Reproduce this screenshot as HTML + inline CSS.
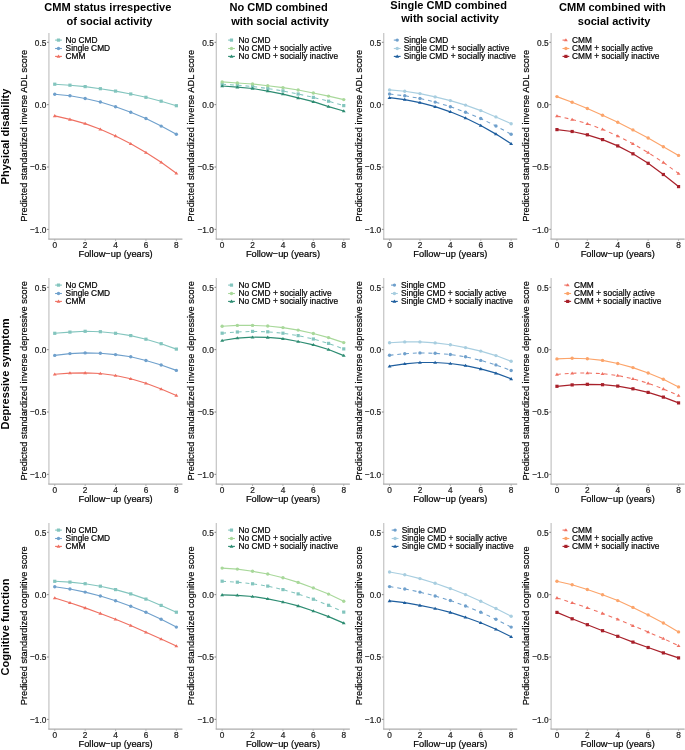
<!DOCTYPE html>
<html><head><meta charset="utf-8"><style>
html,body{margin:0;padding:0;background:#fff;}
body{width:685px;height:750px;overflow:hidden;}
svg{display:block;font-family:"Liberation Sans",sans-serif;will-change:transform;}
</style></head><body>
<svg width="685" height="750" viewBox="0 0 685 750">
<rect width="685" height="750" fill="#ffffff"/>
<text x="107.80" y="11.10" font-size="11.05" font-weight="bold" text-anchor="middle" fill="#000">CMM status irrespective</text>
<text x="109.40" y="24.50" font-size="11.05" font-weight="bold" text-anchor="middle" fill="#000">of social activity</text>
<text x="278.65" y="11.10" font-size="11.05" font-weight="bold" text-anchor="middle" fill="#000">No CMD combined</text>
<text x="280.00" y="24.50" font-size="11.05" font-weight="bold" text-anchor="middle" fill="#000">with social activity</text>
<text x="448.65" y="8.80" font-size="11.05" font-weight="bold" text-anchor="middle" fill="#000">Single CMD combined</text>
<text x="450.10" y="21.90" font-size="11.05" font-weight="bold" text-anchor="middle" fill="#000">with social activity</text>
<text x="612.40" y="10.90" font-size="11.05" font-weight="bold" text-anchor="middle" fill="#000">CMM combined with</text>
<text x="614.05" y="24.50" font-size="11.05" font-weight="bold" text-anchor="middle" fill="#000">social activity</text>
<text transform="translate(8.9 136.50) rotate(-90)" font-size="11.05" font-weight="bold" text-anchor="middle" fill="#000">Physical disability</text>
<text transform="translate(26.72 135.83) rotate(-90)" font-size="9.9" textLength="171.89" lengthAdjust="spacingAndGlyphs" text-anchor="middle" fill="#000" stroke="#000" stroke-width="0.2">Predicted standardized inverse ADL score</text>
<line x1="48.92" y1="32.95" x2="48.92" y2="239.10" stroke="#c6c6c6" stroke-width="1.25"/>
<line x1="48.27" y1="239.15" x2="182.43" y2="239.15" stroke="#acacac" stroke-width="1.4"/>
<line x1="47.07" y1="42.30" x2="48.67" y2="42.30" stroke="#333333" stroke-width="0.6"/>
<text transform="translate(46.37 45.60) scale(1 1.13)" font-size="8.3" text-anchor="end" fill="#222222" stroke="#222222" stroke-width="0.2">0.5</text>
<line x1="47.07" y1="104.65" x2="48.67" y2="104.65" stroke="#333333" stroke-width="0.6"/>
<text transform="translate(46.37 107.95) scale(1 1.13)" font-size="8.3" text-anchor="end" fill="#222222" stroke="#222222" stroke-width="0.2">0.0</text>
<line x1="47.07" y1="167.00" x2="48.67" y2="167.00" stroke="#333333" stroke-width="0.6"/>
<text transform="translate(46.37 170.30) scale(1 1.13)" font-size="8.3" text-anchor="end" fill="#222222" stroke="#222222" stroke-width="0.2">−0.5</text>
<line x1="47.07" y1="229.35" x2="48.67" y2="229.35" stroke="#333333" stroke-width="0.6"/>
<text transform="translate(46.37 232.65) scale(1 1.13)" font-size="8.3" text-anchor="end" fill="#222222" stroke="#222222" stroke-width="0.2">−1.0</text>
<line x1="54.75" y1="239.80" x2="54.75" y2="240.60" stroke="#333333" stroke-width="0.6"/>
<text transform="translate(54.75 247.67) scale(1 1.13)" font-size="8.3" text-anchor="middle" fill="#222222" stroke="#222222" stroke-width="0.2">0</text>
<line x1="85.15" y1="239.80" x2="85.15" y2="240.60" stroke="#333333" stroke-width="0.6"/>
<text transform="translate(85.15 247.67) scale(1 1.13)" font-size="8.3" text-anchor="middle" fill="#222222" stroke="#222222" stroke-width="0.2">2</text>
<line x1="115.55" y1="239.80" x2="115.55" y2="240.60" stroke="#333333" stroke-width="0.6"/>
<text transform="translate(115.55 247.67) scale(1 1.13)" font-size="8.3" text-anchor="middle" fill="#222222" stroke="#222222" stroke-width="0.2">4</text>
<line x1="145.95" y1="239.80" x2="145.95" y2="240.60" stroke="#333333" stroke-width="0.6"/>
<text transform="translate(145.95 247.67) scale(1 1.13)" font-size="8.3" text-anchor="middle" fill="#222222" stroke="#222222" stroke-width="0.2">6</text>
<line x1="176.35" y1="239.80" x2="176.35" y2="240.60" stroke="#333333" stroke-width="0.6"/>
<text transform="translate(176.35 247.67) scale(1 1.13)" font-size="8.3" text-anchor="middle" fill="#222222" stroke="#222222" stroke-width="0.2">8</text>
<text transform="translate(115.55 256.70) scale(1 1.06)" font-size="9.3" text-anchor="middle" fill="#000" stroke="#000" stroke-width="0.2">Follow−up (years)</text>
<path d="M54.75,84.20 L69.95,85.20 L85.15,86.60 L100.35,88.70 L115.55,91.10 L130.75,94.00 L145.95,97.30 L161.15,101.20 L176.35,105.70" fill="none" stroke="#83C5BE" stroke-width="1.12"/>
<rect x="53.15" y="82.60" width="3.20" height="3.20" fill="#83C5BE"/>
<rect x="68.35" y="83.60" width="3.20" height="3.20" fill="#83C5BE"/>
<rect x="83.55" y="85.00" width="3.20" height="3.20" fill="#83C5BE"/>
<rect x="98.75" y="87.10" width="3.20" height="3.20" fill="#83C5BE"/>
<rect x="113.95" y="89.50" width="3.20" height="3.20" fill="#83C5BE"/>
<rect x="129.15" y="92.40" width="3.20" height="3.20" fill="#83C5BE"/>
<rect x="144.35" y="95.70" width="3.20" height="3.20" fill="#83C5BE"/>
<rect x="159.55" y="99.60" width="3.20" height="3.20" fill="#83C5BE"/>
<rect x="174.75" y="104.10" width="3.20" height="3.20" fill="#83C5BE"/>
<path d="M54.75,94.20 L69.95,95.80 L85.15,98.50 L100.35,102.00 L115.55,106.70 L130.75,112.20 L145.95,118.50 L161.15,126.10 L176.35,134.30" fill="none" stroke="#6FA0CC" stroke-width="1.12"/>
<circle cx="54.75" cy="94.20" r="1.70" fill="#6FA0CC"/>
<circle cx="69.95" cy="95.80" r="1.70" fill="#6FA0CC"/>
<circle cx="85.15" cy="98.50" r="1.70" fill="#6FA0CC"/>
<circle cx="100.35" cy="102.00" r="1.70" fill="#6FA0CC"/>
<circle cx="115.55" cy="106.70" r="1.70" fill="#6FA0CC"/>
<circle cx="130.75" cy="112.20" r="1.70" fill="#6FA0CC"/>
<circle cx="145.95" cy="118.50" r="1.70" fill="#6FA0CC"/>
<circle cx="161.15" cy="126.10" r="1.70" fill="#6FA0CC"/>
<circle cx="176.35" cy="134.30" r="1.70" fill="#6FA0CC"/>
<path d="M54.75,115.90 L69.95,119.40 L85.15,123.60 L100.35,129.20 L115.55,135.90 L130.75,143.70 L145.95,152.50 L161.15,162.30 L176.35,173.30" fill="none" stroke="#EF7062" stroke-width="1.12"/>
<polygon points="54.75,114.12 56.70,117.16 52.80,117.16" fill="#EF7062"/>
<polygon points="69.95,117.62 71.90,120.66 68.00,120.66" fill="#EF7062"/>
<polygon points="85.15,121.82 87.10,124.86 83.20,124.86" fill="#EF7062"/>
<polygon points="100.35,127.42 102.30,130.46 98.40,130.46" fill="#EF7062"/>
<polygon points="115.55,134.12 117.50,137.16 113.60,137.16" fill="#EF7062"/>
<polygon points="130.75,141.92 132.70,144.96 128.80,144.96" fill="#EF7062"/>
<polygon points="145.95,150.72 147.90,153.76 144.00,153.76" fill="#EF7062"/>
<polygon points="161.15,160.53 163.10,163.56 159.20,163.56" fill="#EF7062"/>
<polygon points="176.35,171.53 178.30,174.56 174.40,174.56" fill="#EF7062"/>
<line x1="55.10" y1="40.10" x2="61.90" y2="40.10" stroke="#83C5BE" stroke-width="1.1"/>
<rect x="56.90" y="38.50" width="3.20" height="3.20" fill="#83C5BE"/>
<text x="65.60" y="43.00" font-size="8.35" fill="#000" stroke="#000" stroke-width="0.2">No CMD</text>
<line x1="55.10" y1="48.50" x2="61.90" y2="48.50" stroke="#6FA0CC" stroke-width="1.1"/>
<circle cx="58.50" cy="48.50" r="1.70" fill="#6FA0CC"/>
<text x="65.60" y="51.40" font-size="8.35" fill="#000" stroke="#000" stroke-width="0.2">Single CMD</text>
<line x1="55.10" y1="56.40" x2="61.90" y2="56.40" stroke="#EF7062" stroke-width="1.1"/>
<polygon points="58.50,54.62 60.45,57.66 56.55,57.66" fill="#EF7062"/>
<text x="65.60" y="59.30" font-size="8.35" fill="#000" stroke="#000" stroke-width="0.2">CMM</text>
<text transform="translate(194.12 135.83) rotate(-90)" font-size="9.9" textLength="171.89" lengthAdjust="spacingAndGlyphs" text-anchor="middle" fill="#000" stroke="#000" stroke-width="0.2">Predicted standardized inverse ADL score</text>
<line x1="216.32" y1="32.95" x2="216.32" y2="239.10" stroke="#c6c6c6" stroke-width="1.25"/>
<line x1="215.67" y1="239.15" x2="349.83" y2="239.15" stroke="#acacac" stroke-width="1.4"/>
<line x1="214.47" y1="42.30" x2="216.07" y2="42.30" stroke="#333333" stroke-width="0.6"/>
<text transform="translate(213.77 45.60) scale(1 1.13)" font-size="8.3" text-anchor="end" fill="#222222" stroke="#222222" stroke-width="0.2">0.5</text>
<line x1="214.47" y1="104.65" x2="216.07" y2="104.65" stroke="#333333" stroke-width="0.6"/>
<text transform="translate(213.77 107.95) scale(1 1.13)" font-size="8.3" text-anchor="end" fill="#222222" stroke="#222222" stroke-width="0.2">0.0</text>
<line x1="214.47" y1="167.00" x2="216.07" y2="167.00" stroke="#333333" stroke-width="0.6"/>
<text transform="translate(213.77 170.30) scale(1 1.13)" font-size="8.3" text-anchor="end" fill="#222222" stroke="#222222" stroke-width="0.2">−0.5</text>
<line x1="214.47" y1="229.35" x2="216.07" y2="229.35" stroke="#333333" stroke-width="0.6"/>
<text transform="translate(213.77 232.65) scale(1 1.13)" font-size="8.3" text-anchor="end" fill="#222222" stroke="#222222" stroke-width="0.2">−1.0</text>
<line x1="222.15" y1="239.80" x2="222.15" y2="240.60" stroke="#333333" stroke-width="0.6"/>
<text transform="translate(222.15 247.67) scale(1 1.13)" font-size="8.3" text-anchor="middle" fill="#222222" stroke="#222222" stroke-width="0.2">0</text>
<line x1="252.55" y1="239.80" x2="252.55" y2="240.60" stroke="#333333" stroke-width="0.6"/>
<text transform="translate(252.55 247.67) scale(1 1.13)" font-size="8.3" text-anchor="middle" fill="#222222" stroke="#222222" stroke-width="0.2">2</text>
<line x1="282.95" y1="239.80" x2="282.95" y2="240.60" stroke="#333333" stroke-width="0.6"/>
<text transform="translate(282.95 247.67) scale(1 1.13)" font-size="8.3" text-anchor="middle" fill="#222222" stroke="#222222" stroke-width="0.2">4</text>
<line x1="313.35" y1="239.80" x2="313.35" y2="240.60" stroke="#333333" stroke-width="0.6"/>
<text transform="translate(313.35 247.67) scale(1 1.13)" font-size="8.3" text-anchor="middle" fill="#222222" stroke="#222222" stroke-width="0.2">6</text>
<line x1="343.75" y1="239.80" x2="343.75" y2="240.60" stroke="#333333" stroke-width="0.6"/>
<text transform="translate(343.75 247.67) scale(1 1.13)" font-size="8.3" text-anchor="middle" fill="#222222" stroke="#222222" stroke-width="0.2">8</text>
<text transform="translate(282.95 256.70) scale(1 1.06)" font-size="9.3" text-anchor="middle" fill="#000" stroke="#000" stroke-width="0.2">Follow−up (years)</text>
<path d="M222.15,84.30 L237.35,85.20 L252.55,86.50 L267.75,88.50 L282.95,90.90 L298.15,94.00 L313.35,97.40 L328.55,101.20 L343.75,105.60" fill="none" stroke="#83C5BE" stroke-width="1.05" stroke-dasharray="3.9,3.9"/>
<rect x="220.55" y="82.70" width="3.20" height="3.20" fill="#83C5BE"/>
<rect x="235.75" y="83.60" width="3.20" height="3.20" fill="#83C5BE"/>
<rect x="250.95" y="84.90" width="3.20" height="3.20" fill="#83C5BE"/>
<rect x="266.15" y="86.90" width="3.20" height="3.20" fill="#83C5BE"/>
<rect x="281.35" y="89.30" width="3.20" height="3.20" fill="#83C5BE"/>
<rect x="296.55" y="92.40" width="3.20" height="3.20" fill="#83C5BE"/>
<rect x="311.75" y="95.80" width="3.20" height="3.20" fill="#83C5BE"/>
<rect x="326.95" y="99.60" width="3.20" height="3.20" fill="#83C5BE"/>
<rect x="342.15" y="104.00" width="3.20" height="3.20" fill="#83C5BE"/>
<path d="M222.15,81.90 L237.35,83.00 L252.55,84.00 L267.75,85.70 L282.95,87.60 L298.15,90.00 L313.35,93.00 L328.55,96.10 L343.75,99.60" fill="none" stroke="#A8D89A" stroke-width="1.12"/>
<circle cx="222.15" cy="81.90" r="1.70" fill="#A8D89A"/>
<circle cx="237.35" cy="83.00" r="1.70" fill="#A8D89A"/>
<circle cx="252.55" cy="84.00" r="1.70" fill="#A8D89A"/>
<circle cx="267.75" cy="85.70" r="1.70" fill="#A8D89A"/>
<circle cx="282.95" cy="87.60" r="1.70" fill="#A8D89A"/>
<circle cx="298.15" cy="90.00" r="1.70" fill="#A8D89A"/>
<circle cx="313.35" cy="93.00" r="1.70" fill="#A8D89A"/>
<circle cx="328.55" cy="96.10" r="1.70" fill="#A8D89A"/>
<circle cx="343.75" cy="99.60" r="1.70" fill="#A8D89A"/>
<path d="M222.15,86.00 L237.35,87.20 L252.55,88.50 L267.75,91.10 L282.95,94.10 L298.15,97.90 L313.35,101.70 L328.55,106.60 L343.75,111.00" fill="none" stroke="#2D8C72" stroke-width="1.22"/>
<polygon points="222.15,84.22 224.10,87.26 220.20,87.26" fill="#2D8C72"/>
<polygon points="237.35,85.42 239.30,88.46 235.40,88.46" fill="#2D8C72"/>
<polygon points="252.55,86.72 254.50,89.76 250.60,89.76" fill="#2D8C72"/>
<polygon points="267.75,89.32 269.70,92.36 265.80,92.36" fill="#2D8C72"/>
<polygon points="282.95,92.32 284.90,95.36 281.00,95.36" fill="#2D8C72"/>
<polygon points="298.15,96.12 300.10,99.16 296.20,99.16" fill="#2D8C72"/>
<polygon points="313.35,99.92 315.30,102.96 311.40,102.96" fill="#2D8C72"/>
<polygon points="328.55,104.82 330.50,107.86 326.60,107.86" fill="#2D8C72"/>
<polygon points="343.75,109.22 345.70,112.26 341.80,112.26" fill="#2D8C72"/>
<line x1="228.10" y1="40.10" x2="234.90" y2="40.10" stroke="#83C5BE" stroke-width="1.1" stroke-dasharray="4,4"/>
<rect x="229.90" y="38.50" width="3.20" height="3.20" fill="#83C5BE"/>
<text x="238.60" y="43.00" font-size="8.35" fill="#000" stroke="#000" stroke-width="0.2">No CMD</text>
<line x1="228.10" y1="48.50" x2="234.90" y2="48.50" stroke="#A8D89A" stroke-width="1.1"/>
<circle cx="231.50" cy="48.50" r="1.70" fill="#A8D89A"/>
<text x="238.60" y="51.40" font-size="8.35" fill="#000" stroke="#000" stroke-width="0.2">No CMD + socially active</text>
<line x1="228.10" y1="56.40" x2="234.90" y2="56.40" stroke="#2D8C72" stroke-width="1.1"/>
<polygon points="231.50,54.62 233.45,57.66 229.55,57.66" fill="#2D8C72"/>
<text x="238.60" y="59.30" font-size="8.35" fill="#000" stroke="#000" stroke-width="0.2">No CMD + socially inactive</text>
<text transform="translate(361.52 135.83) rotate(-90)" font-size="9.9" textLength="171.89" lengthAdjust="spacingAndGlyphs" text-anchor="middle" fill="#000" stroke="#000" stroke-width="0.2">Predicted standardized inverse ADL score</text>
<line x1="383.72" y1="32.95" x2="383.72" y2="239.10" stroke="#c6c6c6" stroke-width="1.25"/>
<line x1="383.07" y1="239.15" x2="517.23" y2="239.15" stroke="#acacac" stroke-width="1.4"/>
<line x1="381.87" y1="42.30" x2="383.47" y2="42.30" stroke="#333333" stroke-width="0.6"/>
<text transform="translate(381.17 45.60) scale(1 1.13)" font-size="8.3" text-anchor="end" fill="#222222" stroke="#222222" stroke-width="0.2">0.5</text>
<line x1="381.87" y1="104.65" x2="383.47" y2="104.65" stroke="#333333" stroke-width="0.6"/>
<text transform="translate(381.17 107.95) scale(1 1.13)" font-size="8.3" text-anchor="end" fill="#222222" stroke="#222222" stroke-width="0.2">0.0</text>
<line x1="381.87" y1="167.00" x2="383.47" y2="167.00" stroke="#333333" stroke-width="0.6"/>
<text transform="translate(381.17 170.30) scale(1 1.13)" font-size="8.3" text-anchor="end" fill="#222222" stroke="#222222" stroke-width="0.2">−0.5</text>
<line x1="381.87" y1="229.35" x2="383.47" y2="229.35" stroke="#333333" stroke-width="0.6"/>
<text transform="translate(381.17 232.65) scale(1 1.13)" font-size="8.3" text-anchor="end" fill="#222222" stroke="#222222" stroke-width="0.2">−1.0</text>
<line x1="389.55" y1="239.80" x2="389.55" y2="240.60" stroke="#333333" stroke-width="0.6"/>
<text transform="translate(389.55 247.67) scale(1 1.13)" font-size="8.3" text-anchor="middle" fill="#222222" stroke="#222222" stroke-width="0.2">0</text>
<line x1="419.95" y1="239.80" x2="419.95" y2="240.60" stroke="#333333" stroke-width="0.6"/>
<text transform="translate(419.95 247.67) scale(1 1.13)" font-size="8.3" text-anchor="middle" fill="#222222" stroke="#222222" stroke-width="0.2">2</text>
<line x1="450.35" y1="239.80" x2="450.35" y2="240.60" stroke="#333333" stroke-width="0.6"/>
<text transform="translate(450.35 247.67) scale(1 1.13)" font-size="8.3" text-anchor="middle" fill="#222222" stroke="#222222" stroke-width="0.2">4</text>
<line x1="480.75" y1="239.80" x2="480.75" y2="240.60" stroke="#333333" stroke-width="0.6"/>
<text transform="translate(480.75 247.67) scale(1 1.13)" font-size="8.3" text-anchor="middle" fill="#222222" stroke="#222222" stroke-width="0.2">6</text>
<line x1="511.15" y1="239.80" x2="511.15" y2="240.60" stroke="#333333" stroke-width="0.6"/>
<text transform="translate(511.15 247.67) scale(1 1.13)" font-size="8.3" text-anchor="middle" fill="#222222" stroke="#222222" stroke-width="0.2">8</text>
<text transform="translate(450.35 256.70) scale(1 1.06)" font-size="9.3" text-anchor="middle" fill="#000" stroke="#000" stroke-width="0.2">Follow−up (years)</text>
<path d="M389.55,94.00 L404.75,95.80 L419.95,98.40 L435.15,102.10 L450.35,106.70 L465.55,112.30 L480.75,118.50 L495.95,126.00 L511.15,134.20" fill="none" stroke="#6FA0CC" stroke-width="1.05" stroke-dasharray="3.9,3.9"/>
<circle cx="389.55" cy="94.00" r="1.70" fill="#6FA0CC"/>
<circle cx="404.75" cy="95.80" r="1.70" fill="#6FA0CC"/>
<circle cx="419.95" cy="98.40" r="1.70" fill="#6FA0CC"/>
<circle cx="435.15" cy="102.10" r="1.70" fill="#6FA0CC"/>
<circle cx="450.35" cy="106.70" r="1.70" fill="#6FA0CC"/>
<circle cx="465.55" cy="112.30" r="1.70" fill="#6FA0CC"/>
<circle cx="480.75" cy="118.50" r="1.70" fill="#6FA0CC"/>
<circle cx="495.95" cy="126.00" r="1.70" fill="#6FA0CC"/>
<circle cx="511.15" cy="134.20" r="1.70" fill="#6FA0CC"/>
<path d="M389.55,89.90 L404.75,91.20 L419.95,93.60 L435.15,96.90 L450.35,100.60 L465.55,105.10 L480.75,110.60 L495.95,116.90 L511.15,123.70" fill="none" stroke="#A8CEE0" stroke-width="1.12"/>
<circle cx="389.55" cy="89.90" r="1.70" fill="#A8CEE0"/>
<circle cx="404.75" cy="91.20" r="1.70" fill="#A8CEE0"/>
<circle cx="419.95" cy="93.60" r="1.70" fill="#A8CEE0"/>
<circle cx="435.15" cy="96.90" r="1.70" fill="#A8CEE0"/>
<circle cx="450.35" cy="100.60" r="1.70" fill="#A8CEE0"/>
<circle cx="465.55" cy="105.10" r="1.70" fill="#A8CEE0"/>
<circle cx="480.75" cy="110.60" r="1.70" fill="#A8CEE0"/>
<circle cx="495.95" cy="116.90" r="1.70" fill="#A8CEE0"/>
<circle cx="511.15" cy="123.70" r="1.70" fill="#A8CEE0"/>
<path d="M389.55,97.70 L404.75,99.60 L419.95,102.60 L435.15,106.70 L450.35,111.80 L465.55,118.00 L480.75,125.50 L495.95,134.10 L511.15,143.70" fill="none" stroke="#1E5E9E" stroke-width="1.22"/>
<polygon points="389.55,95.92 391.50,98.96 387.60,98.96" fill="#1E5E9E"/>
<polygon points="404.75,97.82 406.70,100.86 402.80,100.86" fill="#1E5E9E"/>
<polygon points="419.95,100.82 421.90,103.86 418.00,103.86" fill="#1E5E9E"/>
<polygon points="435.15,104.92 437.10,107.96 433.20,107.96" fill="#1E5E9E"/>
<polygon points="450.35,110.02 452.30,113.06 448.40,113.06" fill="#1E5E9E"/>
<polygon points="465.55,116.22 467.50,119.26 463.60,119.26" fill="#1E5E9E"/>
<polygon points="480.75,123.72 482.70,126.76 478.80,126.76" fill="#1E5E9E"/>
<polygon points="495.95,132.32 497.90,135.36 494.00,135.36" fill="#1E5E9E"/>
<polygon points="511.15,141.92 513.10,144.96 509.20,144.96" fill="#1E5E9E"/>
<line x1="393.80" y1="40.10" x2="400.60" y2="40.10" stroke="#6FA0CC" stroke-width="1.1" stroke-dasharray="4,4"/>
<circle cx="397.20" cy="40.10" r="1.70" fill="#6FA0CC"/>
<text x="403.80" y="43.00" font-size="8.35" fill="#000" stroke="#000" stroke-width="0.2">Single CMD</text>
<line x1="393.80" y1="48.50" x2="400.60" y2="48.50" stroke="#A8CEE0" stroke-width="1.1"/>
<circle cx="397.20" cy="48.50" r="1.70" fill="#A8CEE0"/>
<text x="403.80" y="51.40" font-size="8.35" fill="#000" stroke="#000" stroke-width="0.2">Single CMD + socially active</text>
<line x1="393.80" y1="56.40" x2="400.60" y2="56.40" stroke="#1E5E9E" stroke-width="1.1"/>
<polygon points="397.20,54.62 399.15,57.66 395.25,57.66" fill="#1E5E9E"/>
<text x="403.80" y="59.30" font-size="8.35" fill="#000" stroke="#000" stroke-width="0.2">Single CMD + socially inactive</text>
<text transform="translate(528.92 135.83) rotate(-90)" font-size="9.9" textLength="171.89" lengthAdjust="spacingAndGlyphs" text-anchor="middle" fill="#000" stroke="#000" stroke-width="0.2">Predicted standardized inverse ADL score</text>
<line x1="551.12" y1="32.95" x2="551.12" y2="239.10" stroke="#c6c6c6" stroke-width="1.25"/>
<line x1="550.47" y1="239.15" x2="684.63" y2="239.15" stroke="#acacac" stroke-width="1.4"/>
<line x1="549.27" y1="42.30" x2="550.87" y2="42.30" stroke="#333333" stroke-width="0.6"/>
<text transform="translate(548.57 45.60) scale(1 1.13)" font-size="8.3" text-anchor="end" fill="#222222" stroke="#222222" stroke-width="0.2">0.5</text>
<line x1="549.27" y1="104.65" x2="550.87" y2="104.65" stroke="#333333" stroke-width="0.6"/>
<text transform="translate(548.57 107.95) scale(1 1.13)" font-size="8.3" text-anchor="end" fill="#222222" stroke="#222222" stroke-width="0.2">0.0</text>
<line x1="549.27" y1="167.00" x2="550.87" y2="167.00" stroke="#333333" stroke-width="0.6"/>
<text transform="translate(548.57 170.30) scale(1 1.13)" font-size="8.3" text-anchor="end" fill="#222222" stroke="#222222" stroke-width="0.2">−0.5</text>
<line x1="549.27" y1="229.35" x2="550.87" y2="229.35" stroke="#333333" stroke-width="0.6"/>
<text transform="translate(548.57 232.65) scale(1 1.13)" font-size="8.3" text-anchor="end" fill="#222222" stroke="#222222" stroke-width="0.2">−1.0</text>
<line x1="556.95" y1="239.80" x2="556.95" y2="240.60" stroke="#333333" stroke-width="0.6"/>
<text transform="translate(556.95 247.67) scale(1 1.13)" font-size="8.3" text-anchor="middle" fill="#222222" stroke="#222222" stroke-width="0.2">0</text>
<line x1="587.35" y1="239.80" x2="587.35" y2="240.60" stroke="#333333" stroke-width="0.6"/>
<text transform="translate(587.35 247.67) scale(1 1.13)" font-size="8.3" text-anchor="middle" fill="#222222" stroke="#222222" stroke-width="0.2">2</text>
<line x1="617.75" y1="239.80" x2="617.75" y2="240.60" stroke="#333333" stroke-width="0.6"/>
<text transform="translate(617.75 247.67) scale(1 1.13)" font-size="8.3" text-anchor="middle" fill="#222222" stroke="#222222" stroke-width="0.2">4</text>
<line x1="648.15" y1="239.80" x2="648.15" y2="240.60" stroke="#333333" stroke-width="0.6"/>
<text transform="translate(648.15 247.67) scale(1 1.13)" font-size="8.3" text-anchor="middle" fill="#222222" stroke="#222222" stroke-width="0.2">6</text>
<line x1="678.55" y1="239.80" x2="678.55" y2="240.60" stroke="#333333" stroke-width="0.6"/>
<text transform="translate(678.55 247.67) scale(1 1.13)" font-size="8.3" text-anchor="middle" fill="#222222" stroke="#222222" stroke-width="0.2">8</text>
<text transform="translate(617.75 256.70) scale(1 1.06)" font-size="9.3" text-anchor="middle" fill="#000" stroke="#000" stroke-width="0.2">Follow−up (years)</text>
<path d="M556.95,116.00 L572.15,119.50 L587.35,123.70 L602.55,129.30 L617.75,136.00 L632.95,143.70 L648.15,152.60 L663.35,162.40 L678.55,173.50" fill="none" stroke="#EF7062" stroke-width="1.05" stroke-dasharray="3.9,3.9"/>
<polygon points="556.95,114.22 558.90,117.26 555.00,117.26" fill="#EF7062"/>
<polygon points="572.15,117.72 574.10,120.76 570.20,120.76" fill="#EF7062"/>
<polygon points="587.35,121.92 589.30,124.96 585.40,124.96" fill="#EF7062"/>
<polygon points="602.55,127.53 604.50,130.56 600.60,130.56" fill="#EF7062"/>
<polygon points="617.75,134.22 619.70,137.26 615.80,137.26" fill="#EF7062"/>
<polygon points="632.95,141.92 634.90,144.96 631.00,144.96" fill="#EF7062"/>
<polygon points="648.15,150.82 650.10,153.86 646.20,153.86" fill="#EF7062"/>
<polygon points="663.35,160.62 665.30,163.66 661.40,163.66" fill="#EF7062"/>
<polygon points="678.55,171.72 680.50,174.76 676.60,174.76" fill="#EF7062"/>
<path d="M556.95,96.60 L572.15,102.20 L587.35,108.50 L602.55,115.30 L617.75,122.20 L632.95,129.90 L648.15,138.00 L663.35,146.70 L678.55,155.40" fill="none" stroke="#FCA46A" stroke-width="1.12"/>
<circle cx="556.95" cy="96.60" r="1.70" fill="#FCA46A"/>
<circle cx="572.15" cy="102.20" r="1.70" fill="#FCA46A"/>
<circle cx="587.35" cy="108.50" r="1.70" fill="#FCA46A"/>
<circle cx="602.55" cy="115.30" r="1.70" fill="#FCA46A"/>
<circle cx="617.75" cy="122.20" r="1.70" fill="#FCA46A"/>
<circle cx="632.95" cy="129.90" r="1.70" fill="#FCA46A"/>
<circle cx="648.15" cy="138.00" r="1.70" fill="#FCA46A"/>
<circle cx="663.35" cy="146.70" r="1.70" fill="#FCA46A"/>
<circle cx="678.55" cy="155.40" r="1.70" fill="#FCA46A"/>
<path d="M556.95,129.60 L572.15,131.50 L587.35,134.80 L602.55,139.60 L617.75,145.90 L632.95,153.80 L648.15,163.30 L663.35,174.50 L678.55,186.60" fill="none" stroke="#A8202A" stroke-width="1.22"/>
<rect x="555.35" y="128.00" width="3.20" height="3.20" fill="#A8202A"/>
<rect x="570.55" y="129.90" width="3.20" height="3.20" fill="#A8202A"/>
<rect x="585.75" y="133.20" width="3.20" height="3.20" fill="#A8202A"/>
<rect x="600.95" y="138.00" width="3.20" height="3.20" fill="#A8202A"/>
<rect x="616.15" y="144.30" width="3.20" height="3.20" fill="#A8202A"/>
<rect x="631.35" y="152.20" width="3.20" height="3.20" fill="#A8202A"/>
<rect x="646.55" y="161.70" width="3.20" height="3.20" fill="#A8202A"/>
<rect x="661.75" y="172.90" width="3.20" height="3.20" fill="#A8202A"/>
<rect x="676.95" y="185.00" width="3.20" height="3.20" fill="#A8202A"/>
<line x1="562.50" y1="40.10" x2="569.30" y2="40.10" stroke="#EF7062" stroke-width="1.1" stroke-dasharray="4,4"/>
<polygon points="565.90,38.33 567.85,41.36 563.95,41.36" fill="#EF7062"/>
<text x="572.10" y="43.00" font-size="8.35" fill="#000" stroke="#000" stroke-width="0.2">CMM</text>
<line x1="562.50" y1="48.50" x2="569.30" y2="48.50" stroke="#FCA46A" stroke-width="1.1"/>
<circle cx="565.90" cy="48.50" r="1.70" fill="#FCA46A"/>
<text x="572.10" y="51.40" font-size="8.35" fill="#000" stroke="#000" stroke-width="0.2">CMM + socially active</text>
<line x1="562.50" y1="56.40" x2="569.30" y2="56.40" stroke="#A8202A" stroke-width="1.1"/>
<rect x="564.30" y="54.80" width="3.20" height="3.20" fill="#A8202A"/>
<text x="572.10" y="59.30" font-size="8.35" fill="#000" stroke="#000" stroke-width="0.2">CMM + socially inactive</text>
<text transform="translate(8.9 374.00) rotate(-90)" font-size="11.05" font-weight="bold" text-anchor="middle" fill="#000">Depressive symptom</text>
<text transform="translate(26.72 380.83) rotate(-90)" font-size="9.9" textLength="199.48" lengthAdjust="spacingAndGlyphs" text-anchor="middle" fill="#000" stroke="#000" stroke-width="0.2">Predicted standardized inverse depressive score</text>
<line x1="48.92" y1="277.95" x2="48.92" y2="484.10" stroke="#c6c6c6" stroke-width="1.25"/>
<line x1="48.27" y1="484.15" x2="182.43" y2="484.15" stroke="#acacac" stroke-width="1.4"/>
<line x1="47.07" y1="287.30" x2="48.67" y2="287.30" stroke="#333333" stroke-width="0.6"/>
<text transform="translate(46.37 290.60) scale(1 1.13)" font-size="8.3" text-anchor="end" fill="#222222" stroke="#222222" stroke-width="0.2">0.5</text>
<line x1="47.07" y1="349.65" x2="48.67" y2="349.65" stroke="#333333" stroke-width="0.6"/>
<text transform="translate(46.37 352.95) scale(1 1.13)" font-size="8.3" text-anchor="end" fill="#222222" stroke="#222222" stroke-width="0.2">0.0</text>
<line x1="47.07" y1="412.00" x2="48.67" y2="412.00" stroke="#333333" stroke-width="0.6"/>
<text transform="translate(46.37 415.30) scale(1 1.13)" font-size="8.3" text-anchor="end" fill="#222222" stroke="#222222" stroke-width="0.2">−0.5</text>
<line x1="47.07" y1="474.35" x2="48.67" y2="474.35" stroke="#333333" stroke-width="0.6"/>
<text transform="translate(46.37 477.65) scale(1 1.13)" font-size="8.3" text-anchor="end" fill="#222222" stroke="#222222" stroke-width="0.2">−1.0</text>
<line x1="54.75" y1="484.80" x2="54.75" y2="485.60" stroke="#333333" stroke-width="0.6"/>
<text transform="translate(54.75 492.67) scale(1 1.13)" font-size="8.3" text-anchor="middle" fill="#222222" stroke="#222222" stroke-width="0.2">0</text>
<line x1="85.15" y1="484.80" x2="85.15" y2="485.60" stroke="#333333" stroke-width="0.6"/>
<text transform="translate(85.15 492.67) scale(1 1.13)" font-size="8.3" text-anchor="middle" fill="#222222" stroke="#222222" stroke-width="0.2">2</text>
<line x1="115.55" y1="484.80" x2="115.55" y2="485.60" stroke="#333333" stroke-width="0.6"/>
<text transform="translate(115.55 492.67) scale(1 1.13)" font-size="8.3" text-anchor="middle" fill="#222222" stroke="#222222" stroke-width="0.2">4</text>
<line x1="145.95" y1="484.80" x2="145.95" y2="485.60" stroke="#333333" stroke-width="0.6"/>
<text transform="translate(145.95 492.67) scale(1 1.13)" font-size="8.3" text-anchor="middle" fill="#222222" stroke="#222222" stroke-width="0.2">6</text>
<line x1="176.35" y1="484.80" x2="176.35" y2="485.60" stroke="#333333" stroke-width="0.6"/>
<text transform="translate(176.35 492.67) scale(1 1.13)" font-size="8.3" text-anchor="middle" fill="#222222" stroke="#222222" stroke-width="0.2">8</text>
<text transform="translate(115.55 501.70) scale(1 1.06)" font-size="9.3" text-anchor="middle" fill="#000" stroke="#000" stroke-width="0.2">Follow−up (years)</text>
<path d="M54.75,333.30 L69.95,332.10 L85.15,331.30 L100.35,331.70 L115.55,333.30 L130.75,335.60 L145.95,339.20 L161.15,343.70 L176.35,349.10" fill="none" stroke="#83C5BE" stroke-width="1.12"/>
<rect x="53.15" y="331.70" width="3.20" height="3.20" fill="#83C5BE"/>
<rect x="68.35" y="330.50" width="3.20" height="3.20" fill="#83C5BE"/>
<rect x="83.55" y="329.70" width="3.20" height="3.20" fill="#83C5BE"/>
<rect x="98.75" y="330.10" width="3.20" height="3.20" fill="#83C5BE"/>
<rect x="113.95" y="331.70" width="3.20" height="3.20" fill="#83C5BE"/>
<rect x="129.15" y="334.00" width="3.20" height="3.20" fill="#83C5BE"/>
<rect x="144.35" y="337.60" width="3.20" height="3.20" fill="#83C5BE"/>
<rect x="159.55" y="342.10" width="3.20" height="3.20" fill="#83C5BE"/>
<rect x="174.75" y="347.50" width="3.20" height="3.20" fill="#83C5BE"/>
<path d="M54.75,355.40 L69.95,353.60 L85.15,352.90 L100.35,353.30 L115.55,354.60 L130.75,356.80 L145.95,360.50 L161.15,365.00 L176.35,370.40" fill="none" stroke="#6FA0CC" stroke-width="1.12"/>
<circle cx="54.75" cy="355.40" r="1.70" fill="#6FA0CC"/>
<circle cx="69.95" cy="353.60" r="1.70" fill="#6FA0CC"/>
<circle cx="85.15" cy="352.90" r="1.70" fill="#6FA0CC"/>
<circle cx="100.35" cy="353.30" r="1.70" fill="#6FA0CC"/>
<circle cx="115.55" cy="354.60" r="1.70" fill="#6FA0CC"/>
<circle cx="130.75" cy="356.80" r="1.70" fill="#6FA0CC"/>
<circle cx="145.95" cy="360.50" r="1.70" fill="#6FA0CC"/>
<circle cx="161.15" cy="365.00" r="1.70" fill="#6FA0CC"/>
<circle cx="176.35" cy="370.40" r="1.70" fill="#6FA0CC"/>
<path d="M54.75,374.30 L69.95,373.10 L85.15,372.90 L100.35,373.50 L115.55,375.50 L130.75,378.80 L145.95,383.30 L161.15,389.00 L176.35,395.40" fill="none" stroke="#EF7062" stroke-width="1.12"/>
<polygon points="54.75,372.53 56.70,375.56 52.80,375.56" fill="#EF7062"/>
<polygon points="69.95,371.33 71.90,374.36 68.00,374.36" fill="#EF7062"/>
<polygon points="85.15,371.12 87.10,374.16 83.20,374.16" fill="#EF7062"/>
<polygon points="100.35,371.73 102.30,374.76 98.40,374.76" fill="#EF7062"/>
<polygon points="115.55,373.73 117.50,376.76 113.60,376.76" fill="#EF7062"/>
<polygon points="130.75,377.03 132.70,380.06 128.80,380.06" fill="#EF7062"/>
<polygon points="145.95,381.53 147.90,384.56 144.00,384.56" fill="#EF7062"/>
<polygon points="161.15,387.23 163.10,390.26 159.20,390.26" fill="#EF7062"/>
<polygon points="176.35,393.62 178.30,396.66 174.40,396.66" fill="#EF7062"/>
<line x1="55.10" y1="285.10" x2="61.90" y2="285.10" stroke="#83C5BE" stroke-width="1.1"/>
<rect x="56.90" y="283.50" width="3.20" height="3.20" fill="#83C5BE"/>
<text x="65.60" y="288.00" font-size="8.35" fill="#000" stroke="#000" stroke-width="0.2">No CMD</text>
<line x1="55.10" y1="293.50" x2="61.90" y2="293.50" stroke="#6FA0CC" stroke-width="1.1"/>
<circle cx="58.50" cy="293.50" r="1.70" fill="#6FA0CC"/>
<text x="65.60" y="296.40" font-size="8.35" fill="#000" stroke="#000" stroke-width="0.2">Single CMD</text>
<line x1="55.10" y1="301.40" x2="61.90" y2="301.40" stroke="#EF7062" stroke-width="1.1"/>
<polygon points="58.50,299.62 60.45,302.66 56.55,302.66" fill="#EF7062"/>
<text x="65.60" y="304.30" font-size="8.35" fill="#000" stroke="#000" stroke-width="0.2">CMM</text>
<text transform="translate(194.12 380.83) rotate(-90)" font-size="9.9" textLength="199.48" lengthAdjust="spacingAndGlyphs" text-anchor="middle" fill="#000" stroke="#000" stroke-width="0.2">Predicted standardized inverse depressive score</text>
<line x1="216.32" y1="277.95" x2="216.32" y2="484.10" stroke="#c6c6c6" stroke-width="1.25"/>
<line x1="215.67" y1="484.15" x2="349.83" y2="484.15" stroke="#acacac" stroke-width="1.4"/>
<line x1="214.47" y1="287.30" x2="216.07" y2="287.30" stroke="#333333" stroke-width="0.6"/>
<text transform="translate(213.77 290.60) scale(1 1.13)" font-size="8.3" text-anchor="end" fill="#222222" stroke="#222222" stroke-width="0.2">0.5</text>
<line x1="214.47" y1="349.65" x2="216.07" y2="349.65" stroke="#333333" stroke-width="0.6"/>
<text transform="translate(213.77 352.95) scale(1 1.13)" font-size="8.3" text-anchor="end" fill="#222222" stroke="#222222" stroke-width="0.2">0.0</text>
<line x1="214.47" y1="412.00" x2="216.07" y2="412.00" stroke="#333333" stroke-width="0.6"/>
<text transform="translate(213.77 415.30) scale(1 1.13)" font-size="8.3" text-anchor="end" fill="#222222" stroke="#222222" stroke-width="0.2">−0.5</text>
<line x1="214.47" y1="474.35" x2="216.07" y2="474.35" stroke="#333333" stroke-width="0.6"/>
<text transform="translate(213.77 477.65) scale(1 1.13)" font-size="8.3" text-anchor="end" fill="#222222" stroke="#222222" stroke-width="0.2">−1.0</text>
<line x1="222.15" y1="484.80" x2="222.15" y2="485.60" stroke="#333333" stroke-width="0.6"/>
<text transform="translate(222.15 492.67) scale(1 1.13)" font-size="8.3" text-anchor="middle" fill="#222222" stroke="#222222" stroke-width="0.2">0</text>
<line x1="252.55" y1="484.80" x2="252.55" y2="485.60" stroke="#333333" stroke-width="0.6"/>
<text transform="translate(252.55 492.67) scale(1 1.13)" font-size="8.3" text-anchor="middle" fill="#222222" stroke="#222222" stroke-width="0.2">2</text>
<line x1="282.95" y1="484.80" x2="282.95" y2="485.60" stroke="#333333" stroke-width="0.6"/>
<text transform="translate(282.95 492.67) scale(1 1.13)" font-size="8.3" text-anchor="middle" fill="#222222" stroke="#222222" stroke-width="0.2">4</text>
<line x1="313.35" y1="484.80" x2="313.35" y2="485.60" stroke="#333333" stroke-width="0.6"/>
<text transform="translate(313.35 492.67) scale(1 1.13)" font-size="8.3" text-anchor="middle" fill="#222222" stroke="#222222" stroke-width="0.2">6</text>
<line x1="343.75" y1="484.80" x2="343.75" y2="485.60" stroke="#333333" stroke-width="0.6"/>
<text transform="translate(343.75 492.67) scale(1 1.13)" font-size="8.3" text-anchor="middle" fill="#222222" stroke="#222222" stroke-width="0.2">8</text>
<text transform="translate(282.95 501.70) scale(1 1.06)" font-size="9.3" text-anchor="middle" fill="#000" stroke="#000" stroke-width="0.2">Follow−up (years)</text>
<path d="M222.15,333.20 L237.35,332.00 L252.55,331.40 L267.75,331.80 L282.95,333.20 L298.15,335.60 L313.35,339.00 L328.55,343.40 L343.75,348.90" fill="none" stroke="#83C5BE" stroke-width="1.05" stroke-dasharray="3.9,3.9"/>
<rect x="220.55" y="331.60" width="3.20" height="3.20" fill="#83C5BE"/>
<rect x="235.75" y="330.40" width="3.20" height="3.20" fill="#83C5BE"/>
<rect x="250.95" y="329.80" width="3.20" height="3.20" fill="#83C5BE"/>
<rect x="266.15" y="330.20" width="3.20" height="3.20" fill="#83C5BE"/>
<rect x="281.35" y="331.60" width="3.20" height="3.20" fill="#83C5BE"/>
<rect x="296.55" y="334.00" width="3.20" height="3.20" fill="#83C5BE"/>
<rect x="311.75" y="337.40" width="3.20" height="3.20" fill="#83C5BE"/>
<rect x="326.95" y="341.80" width="3.20" height="3.20" fill="#83C5BE"/>
<rect x="342.15" y="347.30" width="3.20" height="3.20" fill="#83C5BE"/>
<path d="M222.15,326.20 L237.35,325.40 L252.55,325.40 L267.75,326.00 L282.95,327.60 L298.15,330.10 L313.35,333.50 L328.55,337.60 L343.75,342.60" fill="none" stroke="#A8D89A" stroke-width="1.12"/>
<circle cx="222.15" cy="326.20" r="1.70" fill="#A8D89A"/>
<circle cx="237.35" cy="325.40" r="1.70" fill="#A8D89A"/>
<circle cx="252.55" cy="325.40" r="1.70" fill="#A8D89A"/>
<circle cx="267.75" cy="326.00" r="1.70" fill="#A8D89A"/>
<circle cx="282.95" cy="327.60" r="1.70" fill="#A8D89A"/>
<circle cx="298.15" cy="330.10" r="1.70" fill="#A8D89A"/>
<circle cx="313.35" cy="333.50" r="1.70" fill="#A8D89A"/>
<circle cx="328.55" cy="337.60" r="1.70" fill="#A8D89A"/>
<circle cx="343.75" cy="342.60" r="1.70" fill="#A8D89A"/>
<path d="M222.15,340.50 L237.35,338.10 L252.55,337.20 L267.75,337.40 L282.95,338.70 L298.15,341.50 L313.35,344.80 L328.55,349.50 L343.75,355.60" fill="none" stroke="#2D8C72" stroke-width="1.22"/>
<polygon points="222.15,338.73 224.10,341.76 220.20,341.76" fill="#2D8C72"/>
<polygon points="237.35,336.33 239.30,339.36 235.40,339.36" fill="#2D8C72"/>
<polygon points="252.55,335.43 254.50,338.46 250.60,338.46" fill="#2D8C72"/>
<polygon points="267.75,335.62 269.70,338.66 265.80,338.66" fill="#2D8C72"/>
<polygon points="282.95,336.93 284.90,339.96 281.00,339.96" fill="#2D8C72"/>
<polygon points="298.15,339.73 300.10,342.76 296.20,342.76" fill="#2D8C72"/>
<polygon points="313.35,343.03 315.30,346.06 311.40,346.06" fill="#2D8C72"/>
<polygon points="328.55,347.73 330.50,350.76 326.60,350.76" fill="#2D8C72"/>
<polygon points="343.75,353.83 345.70,356.86 341.80,356.86" fill="#2D8C72"/>
<line x1="228.10" y1="285.10" x2="234.90" y2="285.10" stroke="#83C5BE" stroke-width="1.1" stroke-dasharray="4,4"/>
<rect x="229.90" y="283.50" width="3.20" height="3.20" fill="#83C5BE"/>
<text x="238.60" y="288.00" font-size="8.35" fill="#000" stroke="#000" stroke-width="0.2">No CMD</text>
<line x1="228.10" y1="293.50" x2="234.90" y2="293.50" stroke="#A8D89A" stroke-width="1.1"/>
<circle cx="231.50" cy="293.50" r="1.70" fill="#A8D89A"/>
<text x="238.60" y="296.40" font-size="8.35" fill="#000" stroke="#000" stroke-width="0.2">No CMD + socially active</text>
<line x1="228.10" y1="301.40" x2="234.90" y2="301.40" stroke="#2D8C72" stroke-width="1.1"/>
<polygon points="231.50,299.62 233.45,302.66 229.55,302.66" fill="#2D8C72"/>
<text x="238.60" y="304.30" font-size="8.35" fill="#000" stroke="#000" stroke-width="0.2">No CMD + socially inactive</text>
<text transform="translate(361.52 380.83) rotate(-90)" font-size="9.9" textLength="199.48" lengthAdjust="spacingAndGlyphs" text-anchor="middle" fill="#000" stroke="#000" stroke-width="0.2">Predicted standardized inverse depressive score</text>
<line x1="383.72" y1="277.95" x2="383.72" y2="484.10" stroke="#c6c6c6" stroke-width="1.25"/>
<line x1="383.07" y1="484.15" x2="517.23" y2="484.15" stroke="#acacac" stroke-width="1.4"/>
<line x1="381.87" y1="287.30" x2="383.47" y2="287.30" stroke="#333333" stroke-width="0.6"/>
<text transform="translate(381.17 290.60) scale(1 1.13)" font-size="8.3" text-anchor="end" fill="#222222" stroke="#222222" stroke-width="0.2">0.5</text>
<line x1="381.87" y1="349.65" x2="383.47" y2="349.65" stroke="#333333" stroke-width="0.6"/>
<text transform="translate(381.17 352.95) scale(1 1.13)" font-size="8.3" text-anchor="end" fill="#222222" stroke="#222222" stroke-width="0.2">0.0</text>
<line x1="381.87" y1="412.00" x2="383.47" y2="412.00" stroke="#333333" stroke-width="0.6"/>
<text transform="translate(381.17 415.30) scale(1 1.13)" font-size="8.3" text-anchor="end" fill="#222222" stroke="#222222" stroke-width="0.2">−0.5</text>
<line x1="381.87" y1="474.35" x2="383.47" y2="474.35" stroke="#333333" stroke-width="0.6"/>
<text transform="translate(381.17 477.65) scale(1 1.13)" font-size="8.3" text-anchor="end" fill="#222222" stroke="#222222" stroke-width="0.2">−1.0</text>
<line x1="389.55" y1="484.80" x2="389.55" y2="485.60" stroke="#333333" stroke-width="0.6"/>
<text transform="translate(389.55 492.67) scale(1 1.13)" font-size="8.3" text-anchor="middle" fill="#222222" stroke="#222222" stroke-width="0.2">0</text>
<line x1="419.95" y1="484.80" x2="419.95" y2="485.60" stroke="#333333" stroke-width="0.6"/>
<text transform="translate(419.95 492.67) scale(1 1.13)" font-size="8.3" text-anchor="middle" fill="#222222" stroke="#222222" stroke-width="0.2">2</text>
<line x1="450.35" y1="484.80" x2="450.35" y2="485.60" stroke="#333333" stroke-width="0.6"/>
<text transform="translate(450.35 492.67) scale(1 1.13)" font-size="8.3" text-anchor="middle" fill="#222222" stroke="#222222" stroke-width="0.2">4</text>
<line x1="480.75" y1="484.80" x2="480.75" y2="485.60" stroke="#333333" stroke-width="0.6"/>
<text transform="translate(480.75 492.67) scale(1 1.13)" font-size="8.3" text-anchor="middle" fill="#222222" stroke="#222222" stroke-width="0.2">6</text>
<line x1="511.15" y1="484.80" x2="511.15" y2="485.60" stroke="#333333" stroke-width="0.6"/>
<text transform="translate(511.15 492.67) scale(1 1.13)" font-size="8.3" text-anchor="middle" fill="#222222" stroke="#222222" stroke-width="0.2">8</text>
<text transform="translate(450.35 501.70) scale(1 1.06)" font-size="9.3" text-anchor="middle" fill="#000" stroke="#000" stroke-width="0.2">Follow−up (years)</text>
<path d="M389.55,355.30 L404.75,353.70 L419.95,352.90 L435.15,353.30 L450.35,354.50 L465.55,356.80 L480.75,360.40 L495.95,364.90 L511.15,370.50" fill="none" stroke="#6FA0CC" stroke-width="1.05" stroke-dasharray="3.9,3.9"/>
<circle cx="389.55" cy="355.30" r="1.70" fill="#6FA0CC"/>
<circle cx="404.75" cy="353.70" r="1.70" fill="#6FA0CC"/>
<circle cx="419.95" cy="352.90" r="1.70" fill="#6FA0CC"/>
<circle cx="435.15" cy="353.30" r="1.70" fill="#6FA0CC"/>
<circle cx="450.35" cy="354.50" r="1.70" fill="#6FA0CC"/>
<circle cx="465.55" cy="356.80" r="1.70" fill="#6FA0CC"/>
<circle cx="480.75" cy="360.40" r="1.70" fill="#6FA0CC"/>
<circle cx="495.95" cy="364.90" r="1.70" fill="#6FA0CC"/>
<circle cx="511.15" cy="370.50" r="1.70" fill="#6FA0CC"/>
<path d="M389.55,342.70 L404.75,341.90 L419.95,341.90 L435.15,342.90 L450.35,344.70 L465.55,347.60 L480.75,351.10 L495.95,355.60 L511.15,361.30" fill="none" stroke="#A8CEE0" stroke-width="1.12"/>
<circle cx="389.55" cy="342.70" r="1.70" fill="#A8CEE0"/>
<circle cx="404.75" cy="341.90" r="1.70" fill="#A8CEE0"/>
<circle cx="419.95" cy="341.90" r="1.70" fill="#A8CEE0"/>
<circle cx="435.15" cy="342.90" r="1.70" fill="#A8CEE0"/>
<circle cx="450.35" cy="344.70" r="1.70" fill="#A8CEE0"/>
<circle cx="465.55" cy="347.60" r="1.70" fill="#A8CEE0"/>
<circle cx="480.75" cy="351.10" r="1.70" fill="#A8CEE0"/>
<circle cx="495.95" cy="355.60" r="1.70" fill="#A8CEE0"/>
<circle cx="511.15" cy="361.30" r="1.70" fill="#A8CEE0"/>
<path d="M389.55,366.20 L404.75,363.80 L419.95,362.50 L435.15,362.50 L450.35,363.50 L465.55,365.60 L480.75,368.90 L495.95,373.20 L511.15,378.90" fill="none" stroke="#1E5E9E" stroke-width="1.22"/>
<polygon points="389.55,364.43 391.50,367.46 387.60,367.46" fill="#1E5E9E"/>
<polygon points="404.75,362.03 406.70,365.06 402.80,365.06" fill="#1E5E9E"/>
<polygon points="419.95,360.73 421.90,363.76 418.00,363.76" fill="#1E5E9E"/>
<polygon points="435.15,360.73 437.10,363.76 433.20,363.76" fill="#1E5E9E"/>
<polygon points="450.35,361.73 452.30,364.76 448.40,364.76" fill="#1E5E9E"/>
<polygon points="465.55,363.83 467.50,366.86 463.60,366.86" fill="#1E5E9E"/>
<polygon points="480.75,367.12 482.70,370.16 478.80,370.16" fill="#1E5E9E"/>
<polygon points="495.95,371.43 497.90,374.46 494.00,374.46" fill="#1E5E9E"/>
<polygon points="511.15,377.12 513.10,380.16 509.20,380.16" fill="#1E5E9E"/>
<line x1="391.00" y1="285.10" x2="397.80" y2="285.10" stroke="#6FA0CC" stroke-width="1.1" stroke-dasharray="4,4"/>
<circle cx="394.40" cy="285.10" r="1.70" fill="#6FA0CC"/>
<text x="401.00" y="288.00" font-size="8.35" fill="#000" stroke="#000" stroke-width="0.2">Single CMD</text>
<line x1="391.00" y1="293.50" x2="397.80" y2="293.50" stroke="#A8CEE0" stroke-width="1.1"/>
<circle cx="394.40" cy="293.50" r="1.70" fill="#A8CEE0"/>
<text x="401.00" y="296.40" font-size="8.35" fill="#000" stroke="#000" stroke-width="0.2">Single CMD + socially active</text>
<line x1="391.00" y1="301.40" x2="397.80" y2="301.40" stroke="#1E5E9E" stroke-width="1.1"/>
<polygon points="394.40,299.62 396.35,302.66 392.45,302.66" fill="#1E5E9E"/>
<text x="401.00" y="304.30" font-size="8.35" fill="#000" stroke="#000" stroke-width="0.2">Single CMD + socially inactive</text>
<text transform="translate(528.92 380.83) rotate(-90)" font-size="9.9" textLength="199.48" lengthAdjust="spacingAndGlyphs" text-anchor="middle" fill="#000" stroke="#000" stroke-width="0.2">Predicted standardized inverse depressive score</text>
<line x1="551.12" y1="277.95" x2="551.12" y2="484.10" stroke="#c6c6c6" stroke-width="1.25"/>
<line x1="550.47" y1="484.15" x2="684.63" y2="484.15" stroke="#acacac" stroke-width="1.4"/>
<line x1="549.27" y1="287.30" x2="550.87" y2="287.30" stroke="#333333" stroke-width="0.6"/>
<text transform="translate(548.57 290.60) scale(1 1.13)" font-size="8.3" text-anchor="end" fill="#222222" stroke="#222222" stroke-width="0.2">0.5</text>
<line x1="549.27" y1="349.65" x2="550.87" y2="349.65" stroke="#333333" stroke-width="0.6"/>
<text transform="translate(548.57 352.95) scale(1 1.13)" font-size="8.3" text-anchor="end" fill="#222222" stroke="#222222" stroke-width="0.2">0.0</text>
<line x1="549.27" y1="412.00" x2="550.87" y2="412.00" stroke="#333333" stroke-width="0.6"/>
<text transform="translate(548.57 415.30) scale(1 1.13)" font-size="8.3" text-anchor="end" fill="#222222" stroke="#222222" stroke-width="0.2">−0.5</text>
<line x1="549.27" y1="474.35" x2="550.87" y2="474.35" stroke="#333333" stroke-width="0.6"/>
<text transform="translate(548.57 477.65) scale(1 1.13)" font-size="8.3" text-anchor="end" fill="#222222" stroke="#222222" stroke-width="0.2">−1.0</text>
<line x1="556.95" y1="484.80" x2="556.95" y2="485.60" stroke="#333333" stroke-width="0.6"/>
<text transform="translate(556.95 492.67) scale(1 1.13)" font-size="8.3" text-anchor="middle" fill="#222222" stroke="#222222" stroke-width="0.2">0</text>
<line x1="587.35" y1="484.80" x2="587.35" y2="485.60" stroke="#333333" stroke-width="0.6"/>
<text transform="translate(587.35 492.67) scale(1 1.13)" font-size="8.3" text-anchor="middle" fill="#222222" stroke="#222222" stroke-width="0.2">2</text>
<line x1="617.75" y1="484.80" x2="617.75" y2="485.60" stroke="#333333" stroke-width="0.6"/>
<text transform="translate(617.75 492.67) scale(1 1.13)" font-size="8.3" text-anchor="middle" fill="#222222" stroke="#222222" stroke-width="0.2">4</text>
<line x1="648.15" y1="484.80" x2="648.15" y2="485.60" stroke="#333333" stroke-width="0.6"/>
<text transform="translate(648.15 492.67) scale(1 1.13)" font-size="8.3" text-anchor="middle" fill="#222222" stroke="#222222" stroke-width="0.2">6</text>
<line x1="678.55" y1="484.80" x2="678.55" y2="485.60" stroke="#333333" stroke-width="0.6"/>
<text transform="translate(678.55 492.67) scale(1 1.13)" font-size="8.3" text-anchor="middle" fill="#222222" stroke="#222222" stroke-width="0.2">8</text>
<text transform="translate(617.75 501.70) scale(1 1.06)" font-size="9.3" text-anchor="middle" fill="#000" stroke="#000" stroke-width="0.2">Follow−up (years)</text>
<path d="M556.95,374.40 L572.15,373.20 L587.35,373.00 L602.55,373.70 L617.75,375.50 L632.95,378.80 L648.15,383.20 L663.35,388.90 L678.55,395.50" fill="none" stroke="#EF7062" stroke-width="1.05" stroke-dasharray="3.9,3.9"/>
<polygon points="556.95,372.62 558.90,375.66 555.00,375.66" fill="#EF7062"/>
<polygon points="572.15,371.43 574.10,374.46 570.20,374.46" fill="#EF7062"/>
<polygon points="587.35,371.23 589.30,374.26 585.40,374.26" fill="#EF7062"/>
<polygon points="602.55,371.93 604.50,374.96 600.60,374.96" fill="#EF7062"/>
<polygon points="617.75,373.73 619.70,376.76 615.80,376.76" fill="#EF7062"/>
<polygon points="632.95,377.03 634.90,380.06 631.00,380.06" fill="#EF7062"/>
<polygon points="648.15,381.43 650.10,384.46 646.20,384.46" fill="#EF7062"/>
<polygon points="663.35,387.12 665.30,390.16 661.40,390.16" fill="#EF7062"/>
<polygon points="678.55,393.73 680.50,396.76 676.60,396.76" fill="#EF7062"/>
<path d="M556.95,358.90 L572.15,358.30 L587.35,358.70 L602.55,360.40 L617.75,363.50 L632.95,367.60 L648.15,373.00 L663.35,379.30 L678.55,386.90" fill="none" stroke="#FCA46A" stroke-width="1.12"/>
<circle cx="556.95" cy="358.90" r="1.70" fill="#FCA46A"/>
<circle cx="572.15" cy="358.30" r="1.70" fill="#FCA46A"/>
<circle cx="587.35" cy="358.70" r="1.70" fill="#FCA46A"/>
<circle cx="602.55" cy="360.40" r="1.70" fill="#FCA46A"/>
<circle cx="617.75" cy="363.50" r="1.70" fill="#FCA46A"/>
<circle cx="632.95" cy="367.60" r="1.70" fill="#FCA46A"/>
<circle cx="648.15" cy="373.00" r="1.70" fill="#FCA46A"/>
<circle cx="663.35" cy="379.30" r="1.70" fill="#FCA46A"/>
<circle cx="678.55" cy="386.90" r="1.70" fill="#FCA46A"/>
<path d="M556.95,386.30 L572.15,384.90 L587.35,384.30 L602.55,384.70 L617.75,386.10 L632.95,388.80 L648.15,392.40 L663.35,397.10 L678.55,402.90" fill="none" stroke="#A8202A" stroke-width="1.22"/>
<rect x="555.35" y="384.70" width="3.20" height="3.20" fill="#A8202A"/>
<rect x="570.55" y="383.30" width="3.20" height="3.20" fill="#A8202A"/>
<rect x="585.75" y="382.70" width="3.20" height="3.20" fill="#A8202A"/>
<rect x="600.95" y="383.10" width="3.20" height="3.20" fill="#A8202A"/>
<rect x="616.15" y="384.50" width="3.20" height="3.20" fill="#A8202A"/>
<rect x="631.35" y="387.20" width="3.20" height="3.20" fill="#A8202A"/>
<rect x="646.55" y="390.80" width="3.20" height="3.20" fill="#A8202A"/>
<rect x="661.75" y="395.50" width="3.20" height="3.20" fill="#A8202A"/>
<rect x="676.95" y="401.30" width="3.20" height="3.20" fill="#A8202A"/>
<line x1="564.30" y1="285.10" x2="571.10" y2="285.10" stroke="#EF7062" stroke-width="1.1" stroke-dasharray="4,4"/>
<polygon points="567.70,283.33 569.65,286.36 565.75,286.36" fill="#EF7062"/>
<text x="573.90" y="288.00" font-size="8.35" fill="#000" stroke="#000" stroke-width="0.2">CMM</text>
<line x1="564.30" y1="293.50" x2="571.10" y2="293.50" stroke="#FCA46A" stroke-width="1.1"/>
<circle cx="567.70" cy="293.50" r="1.70" fill="#FCA46A"/>
<text x="573.90" y="296.40" font-size="8.35" fill="#000" stroke="#000" stroke-width="0.2">CMM + socially active</text>
<line x1="564.30" y1="301.40" x2="571.10" y2="301.40" stroke="#A8202A" stroke-width="1.1"/>
<rect x="566.10" y="299.80" width="3.20" height="3.20" fill="#A8202A"/>
<text x="573.90" y="304.30" font-size="8.35" fill="#000" stroke="#000" stroke-width="0.2">CMM + socially inactive</text>
<text transform="translate(8.9 627.00) rotate(-90)" font-size="11.05" font-weight="bold" text-anchor="middle" fill="#000">Cognitive function</text>
<text transform="translate(26.72 625.82) rotate(-90)" font-size="9.9" textLength="158.87" lengthAdjust="spacingAndGlyphs" text-anchor="middle" fill="#000" stroke="#000" stroke-width="0.2">Predicted standardized cognitive score</text>
<line x1="48.92" y1="522.95" x2="48.92" y2="729.10" stroke="#c6c6c6" stroke-width="1.25"/>
<line x1="48.27" y1="729.15" x2="182.43" y2="729.15" stroke="#acacac" stroke-width="1.4"/>
<line x1="47.07" y1="532.30" x2="48.67" y2="532.30" stroke="#333333" stroke-width="0.6"/>
<text transform="translate(46.37 535.60) scale(1 1.13)" font-size="8.3" text-anchor="end" fill="#222222" stroke="#222222" stroke-width="0.2">0.5</text>
<line x1="47.07" y1="594.65" x2="48.67" y2="594.65" stroke="#333333" stroke-width="0.6"/>
<text transform="translate(46.37 597.95) scale(1 1.13)" font-size="8.3" text-anchor="end" fill="#222222" stroke="#222222" stroke-width="0.2">0.0</text>
<line x1="47.07" y1="657.00" x2="48.67" y2="657.00" stroke="#333333" stroke-width="0.6"/>
<text transform="translate(46.37 660.30) scale(1 1.13)" font-size="8.3" text-anchor="end" fill="#222222" stroke="#222222" stroke-width="0.2">−0.5</text>
<line x1="47.07" y1="719.35" x2="48.67" y2="719.35" stroke="#333333" stroke-width="0.6"/>
<text transform="translate(46.37 722.65) scale(1 1.13)" font-size="8.3" text-anchor="end" fill="#222222" stroke="#222222" stroke-width="0.2">−1.0</text>
<line x1="54.75" y1="729.80" x2="54.75" y2="730.60" stroke="#333333" stroke-width="0.6"/>
<text transform="translate(54.75 737.67) scale(1 1.13)" font-size="8.3" text-anchor="middle" fill="#222222" stroke="#222222" stroke-width="0.2">0</text>
<line x1="85.15" y1="729.80" x2="85.15" y2="730.60" stroke="#333333" stroke-width="0.6"/>
<text transform="translate(85.15 737.67) scale(1 1.13)" font-size="8.3" text-anchor="middle" fill="#222222" stroke="#222222" stroke-width="0.2">2</text>
<line x1="115.55" y1="729.80" x2="115.55" y2="730.60" stroke="#333333" stroke-width="0.6"/>
<text transform="translate(115.55 737.67) scale(1 1.13)" font-size="8.3" text-anchor="middle" fill="#222222" stroke="#222222" stroke-width="0.2">4</text>
<line x1="145.95" y1="729.80" x2="145.95" y2="730.60" stroke="#333333" stroke-width="0.6"/>
<text transform="translate(145.95 737.67) scale(1 1.13)" font-size="8.3" text-anchor="middle" fill="#222222" stroke="#222222" stroke-width="0.2">6</text>
<line x1="176.35" y1="729.80" x2="176.35" y2="730.60" stroke="#333333" stroke-width="0.6"/>
<text transform="translate(176.35 737.67) scale(1 1.13)" font-size="8.3" text-anchor="middle" fill="#222222" stroke="#222222" stroke-width="0.2">8</text>
<text transform="translate(115.55 746.70) scale(1 1.06)" font-size="9.3" text-anchor="middle" fill="#000" stroke="#000" stroke-width="0.2">Follow−up (years)</text>
<path d="M54.75,581.30 L69.95,582.10 L85.15,583.70 L100.35,586.20 L115.55,589.60 L130.75,593.90 L145.95,599.10 L161.15,605.40 L176.35,612.20" fill="none" stroke="#83C5BE" stroke-width="1.12"/>
<rect x="53.15" y="579.70" width="3.20" height="3.20" fill="#83C5BE"/>
<rect x="68.35" y="580.50" width="3.20" height="3.20" fill="#83C5BE"/>
<rect x="83.55" y="582.10" width="3.20" height="3.20" fill="#83C5BE"/>
<rect x="98.75" y="584.60" width="3.20" height="3.20" fill="#83C5BE"/>
<rect x="113.95" y="588.00" width="3.20" height="3.20" fill="#83C5BE"/>
<rect x="129.15" y="592.30" width="3.20" height="3.20" fill="#83C5BE"/>
<rect x="144.35" y="597.50" width="3.20" height="3.20" fill="#83C5BE"/>
<rect x="159.55" y="603.80" width="3.20" height="3.20" fill="#83C5BE"/>
<rect x="174.75" y="610.60" width="3.20" height="3.20" fill="#83C5BE"/>
<path d="M54.75,586.80 L69.95,589.00 L85.15,592.10 L100.35,596.00 L115.55,600.70 L130.75,606.20 L145.95,612.20 L161.15,619.30 L176.35,627.10" fill="none" stroke="#6FA0CC" stroke-width="1.12"/>
<circle cx="54.75" cy="586.80" r="1.70" fill="#6FA0CC"/>
<circle cx="69.95" cy="589.00" r="1.70" fill="#6FA0CC"/>
<circle cx="85.15" cy="592.10" r="1.70" fill="#6FA0CC"/>
<circle cx="100.35" cy="596.00" r="1.70" fill="#6FA0CC"/>
<circle cx="115.55" cy="600.70" r="1.70" fill="#6FA0CC"/>
<circle cx="130.75" cy="606.20" r="1.70" fill="#6FA0CC"/>
<circle cx="145.95" cy="612.20" r="1.70" fill="#6FA0CC"/>
<circle cx="161.15" cy="619.30" r="1.70" fill="#6FA0CC"/>
<circle cx="176.35" cy="627.10" r="1.70" fill="#6FA0CC"/>
<path d="M54.75,598.00 L69.95,602.70 L85.15,607.90 L100.35,613.40 L115.55,619.30 L130.75,625.50 L145.95,632.20 L161.15,639.00 L176.35,646.00" fill="none" stroke="#EF7062" stroke-width="1.12"/>
<polygon points="54.75,596.23 56.70,599.26 52.80,599.26" fill="#EF7062"/>
<polygon points="69.95,600.93 71.90,603.96 68.00,603.96" fill="#EF7062"/>
<polygon points="85.15,606.12 87.10,609.16 83.20,609.16" fill="#EF7062"/>
<polygon points="100.35,611.62 102.30,614.66 98.40,614.66" fill="#EF7062"/>
<polygon points="115.55,617.52 117.50,620.56 113.60,620.56" fill="#EF7062"/>
<polygon points="130.75,623.73 132.70,626.76 128.80,626.76" fill="#EF7062"/>
<polygon points="145.95,630.43 147.90,633.46 144.00,633.46" fill="#EF7062"/>
<polygon points="161.15,637.23 163.10,640.26 159.20,640.26" fill="#EF7062"/>
<polygon points="176.35,644.23 178.30,647.26 174.40,647.26" fill="#EF7062"/>
<line x1="55.10" y1="530.10" x2="61.90" y2="530.10" stroke="#83C5BE" stroke-width="1.1"/>
<rect x="56.90" y="528.50" width="3.20" height="3.20" fill="#83C5BE"/>
<text x="65.60" y="533.00" font-size="8.35" fill="#000" stroke="#000" stroke-width="0.2">No CMD</text>
<line x1="55.10" y1="538.50" x2="61.90" y2="538.50" stroke="#6FA0CC" stroke-width="1.1"/>
<circle cx="58.50" cy="538.50" r="1.70" fill="#6FA0CC"/>
<text x="65.60" y="541.40" font-size="8.35" fill="#000" stroke="#000" stroke-width="0.2">Single CMD</text>
<line x1="55.10" y1="546.40" x2="61.90" y2="546.40" stroke="#EF7062" stroke-width="1.1"/>
<polygon points="58.50,544.62 60.45,547.66 56.55,547.66" fill="#EF7062"/>
<text x="65.60" y="549.30" font-size="8.35" fill="#000" stroke="#000" stroke-width="0.2">CMM</text>
<text transform="translate(194.12 625.82) rotate(-90)" font-size="9.9" textLength="158.87" lengthAdjust="spacingAndGlyphs" text-anchor="middle" fill="#000" stroke="#000" stroke-width="0.2">Predicted standardized cognitive score</text>
<line x1="216.32" y1="522.95" x2="216.32" y2="729.10" stroke="#c6c6c6" stroke-width="1.25"/>
<line x1="215.67" y1="729.15" x2="349.83" y2="729.15" stroke="#acacac" stroke-width="1.4"/>
<line x1="214.47" y1="532.30" x2="216.07" y2="532.30" stroke="#333333" stroke-width="0.6"/>
<text transform="translate(213.77 535.60) scale(1 1.13)" font-size="8.3" text-anchor="end" fill="#222222" stroke="#222222" stroke-width="0.2">0.5</text>
<line x1="214.47" y1="594.65" x2="216.07" y2="594.65" stroke="#333333" stroke-width="0.6"/>
<text transform="translate(213.77 597.95) scale(1 1.13)" font-size="8.3" text-anchor="end" fill="#222222" stroke="#222222" stroke-width="0.2">0.0</text>
<line x1="214.47" y1="657.00" x2="216.07" y2="657.00" stroke="#333333" stroke-width="0.6"/>
<text transform="translate(213.77 660.30) scale(1 1.13)" font-size="8.3" text-anchor="end" fill="#222222" stroke="#222222" stroke-width="0.2">−0.5</text>
<line x1="214.47" y1="719.35" x2="216.07" y2="719.35" stroke="#333333" stroke-width="0.6"/>
<text transform="translate(213.77 722.65) scale(1 1.13)" font-size="8.3" text-anchor="end" fill="#222222" stroke="#222222" stroke-width="0.2">−1.0</text>
<line x1="222.15" y1="729.80" x2="222.15" y2="730.60" stroke="#333333" stroke-width="0.6"/>
<text transform="translate(222.15 737.67) scale(1 1.13)" font-size="8.3" text-anchor="middle" fill="#222222" stroke="#222222" stroke-width="0.2">0</text>
<line x1="252.55" y1="729.80" x2="252.55" y2="730.60" stroke="#333333" stroke-width="0.6"/>
<text transform="translate(252.55 737.67) scale(1 1.13)" font-size="8.3" text-anchor="middle" fill="#222222" stroke="#222222" stroke-width="0.2">2</text>
<line x1="282.95" y1="729.80" x2="282.95" y2="730.60" stroke="#333333" stroke-width="0.6"/>
<text transform="translate(282.95 737.67) scale(1 1.13)" font-size="8.3" text-anchor="middle" fill="#222222" stroke="#222222" stroke-width="0.2">4</text>
<line x1="313.35" y1="729.80" x2="313.35" y2="730.60" stroke="#333333" stroke-width="0.6"/>
<text transform="translate(313.35 737.67) scale(1 1.13)" font-size="8.3" text-anchor="middle" fill="#222222" stroke="#222222" stroke-width="0.2">6</text>
<line x1="343.75" y1="729.80" x2="343.75" y2="730.60" stroke="#333333" stroke-width="0.6"/>
<text transform="translate(343.75 737.67) scale(1 1.13)" font-size="8.3" text-anchor="middle" fill="#222222" stroke="#222222" stroke-width="0.2">8</text>
<text transform="translate(282.95 746.70) scale(1 1.06)" font-size="9.3" text-anchor="middle" fill="#000" stroke="#000" stroke-width="0.2">Follow−up (years)</text>
<path d="M222.15,581.20 L237.35,582.20 L252.55,583.80 L267.75,586.10 L282.95,589.60 L298.15,593.90 L313.35,599.20 L328.55,605.30 L343.75,612.10" fill="none" stroke="#83C5BE" stroke-width="1.05" stroke-dasharray="3.9,3.9"/>
<rect x="220.55" y="579.60" width="3.20" height="3.20" fill="#83C5BE"/>
<rect x="235.75" y="580.60" width="3.20" height="3.20" fill="#83C5BE"/>
<rect x="250.95" y="582.20" width="3.20" height="3.20" fill="#83C5BE"/>
<rect x="266.15" y="584.50" width="3.20" height="3.20" fill="#83C5BE"/>
<rect x="281.35" y="588.00" width="3.20" height="3.20" fill="#83C5BE"/>
<rect x="296.55" y="592.30" width="3.20" height="3.20" fill="#83C5BE"/>
<rect x="311.75" y="597.60" width="3.20" height="3.20" fill="#83C5BE"/>
<rect x="326.95" y="603.70" width="3.20" height="3.20" fill="#83C5BE"/>
<rect x="342.15" y="610.50" width="3.20" height="3.20" fill="#83C5BE"/>
<path d="M222.15,568.10 L237.35,569.10 L252.55,571.30 L267.75,574.00 L282.95,577.70 L298.15,582.40 L313.35,587.90 L328.55,594.10 L343.75,601.20" fill="none" stroke="#A8D89A" stroke-width="1.12"/>
<circle cx="222.15" cy="568.10" r="1.70" fill="#A8D89A"/>
<circle cx="237.35" cy="569.10" r="1.70" fill="#A8D89A"/>
<circle cx="252.55" cy="571.30" r="1.70" fill="#A8D89A"/>
<circle cx="267.75" cy="574.00" r="1.70" fill="#A8D89A"/>
<circle cx="282.95" cy="577.70" r="1.70" fill="#A8D89A"/>
<circle cx="298.15" cy="582.40" r="1.70" fill="#A8D89A"/>
<circle cx="313.35" cy="587.90" r="1.70" fill="#A8D89A"/>
<circle cx="328.55" cy="594.10" r="1.70" fill="#A8D89A"/>
<circle cx="343.75" cy="601.20" r="1.70" fill="#A8D89A"/>
<path d="M222.15,594.90 L237.35,595.30 L252.55,596.50 L267.75,598.80 L282.95,602.00 L298.15,605.90 L313.35,611.00 L328.55,616.60 L343.75,623.10" fill="none" stroke="#2D8C72" stroke-width="1.22"/>
<polygon points="222.15,593.12 224.10,596.16 220.20,596.16" fill="#2D8C72"/>
<polygon points="237.35,593.52 239.30,596.56 235.40,596.56" fill="#2D8C72"/>
<polygon points="252.55,594.73 254.50,597.76 250.60,597.76" fill="#2D8C72"/>
<polygon points="267.75,597.02 269.70,600.06 265.80,600.06" fill="#2D8C72"/>
<polygon points="282.95,600.23 284.90,603.26 281.00,603.26" fill="#2D8C72"/>
<polygon points="298.15,604.12 300.10,607.16 296.20,607.16" fill="#2D8C72"/>
<polygon points="313.35,609.23 315.30,612.26 311.40,612.26" fill="#2D8C72"/>
<polygon points="328.55,614.83 330.50,617.86 326.60,617.86" fill="#2D8C72"/>
<polygon points="343.75,621.33 345.70,624.36 341.80,624.36" fill="#2D8C72"/>
<line x1="228.10" y1="530.10" x2="234.90" y2="530.10" stroke="#83C5BE" stroke-width="1.1" stroke-dasharray="4,4"/>
<rect x="229.90" y="528.50" width="3.20" height="3.20" fill="#83C5BE"/>
<text x="238.60" y="533.00" font-size="8.35" fill="#000" stroke="#000" stroke-width="0.2">No CMD</text>
<line x1="228.10" y1="538.50" x2="234.90" y2="538.50" stroke="#A8D89A" stroke-width="1.1"/>
<circle cx="231.50" cy="538.50" r="1.70" fill="#A8D89A"/>
<text x="238.60" y="541.40" font-size="8.35" fill="#000" stroke="#000" stroke-width="0.2">No CMD + socially active</text>
<line x1="228.10" y1="546.40" x2="234.90" y2="546.40" stroke="#2D8C72" stroke-width="1.1"/>
<polygon points="231.50,544.62 233.45,547.66 229.55,547.66" fill="#2D8C72"/>
<text x="238.60" y="549.30" font-size="8.35" fill="#000" stroke="#000" stroke-width="0.2">No CMD + socially inactive</text>
<text transform="translate(361.52 625.82) rotate(-90)" font-size="9.9" textLength="158.87" lengthAdjust="spacingAndGlyphs" text-anchor="middle" fill="#000" stroke="#000" stroke-width="0.2">Predicted standardized cognitive score</text>
<line x1="383.72" y1="522.95" x2="383.72" y2="729.10" stroke="#c6c6c6" stroke-width="1.25"/>
<line x1="383.07" y1="729.15" x2="517.23" y2="729.15" stroke="#acacac" stroke-width="1.4"/>
<line x1="381.87" y1="532.30" x2="383.47" y2="532.30" stroke="#333333" stroke-width="0.6"/>
<text transform="translate(381.17 535.60) scale(1 1.13)" font-size="8.3" text-anchor="end" fill="#222222" stroke="#222222" stroke-width="0.2">0.5</text>
<line x1="381.87" y1="594.65" x2="383.47" y2="594.65" stroke="#333333" stroke-width="0.6"/>
<text transform="translate(381.17 597.95) scale(1 1.13)" font-size="8.3" text-anchor="end" fill="#222222" stroke="#222222" stroke-width="0.2">0.0</text>
<line x1="381.87" y1="657.00" x2="383.47" y2="657.00" stroke="#333333" stroke-width="0.6"/>
<text transform="translate(381.17 660.30) scale(1 1.13)" font-size="8.3" text-anchor="end" fill="#222222" stroke="#222222" stroke-width="0.2">−0.5</text>
<line x1="381.87" y1="719.35" x2="383.47" y2="719.35" stroke="#333333" stroke-width="0.6"/>
<text transform="translate(381.17 722.65) scale(1 1.13)" font-size="8.3" text-anchor="end" fill="#222222" stroke="#222222" stroke-width="0.2">−1.0</text>
<line x1="389.55" y1="729.80" x2="389.55" y2="730.60" stroke="#333333" stroke-width="0.6"/>
<text transform="translate(389.55 737.67) scale(1 1.13)" font-size="8.3" text-anchor="middle" fill="#222222" stroke="#222222" stroke-width="0.2">0</text>
<line x1="419.95" y1="729.80" x2="419.95" y2="730.60" stroke="#333333" stroke-width="0.6"/>
<text transform="translate(419.95 737.67) scale(1 1.13)" font-size="8.3" text-anchor="middle" fill="#222222" stroke="#222222" stroke-width="0.2">2</text>
<line x1="450.35" y1="729.80" x2="450.35" y2="730.60" stroke="#333333" stroke-width="0.6"/>
<text transform="translate(450.35 737.67) scale(1 1.13)" font-size="8.3" text-anchor="middle" fill="#222222" stroke="#222222" stroke-width="0.2">4</text>
<line x1="480.75" y1="729.80" x2="480.75" y2="730.60" stroke="#333333" stroke-width="0.6"/>
<text transform="translate(480.75 737.67) scale(1 1.13)" font-size="8.3" text-anchor="middle" fill="#222222" stroke="#222222" stroke-width="0.2">6</text>
<line x1="511.15" y1="729.80" x2="511.15" y2="730.60" stroke="#333333" stroke-width="0.6"/>
<text transform="translate(511.15 737.67) scale(1 1.13)" font-size="8.3" text-anchor="middle" fill="#222222" stroke="#222222" stroke-width="0.2">8</text>
<text transform="translate(450.35 746.70) scale(1 1.06)" font-size="9.3" text-anchor="middle" fill="#000" stroke="#000" stroke-width="0.2">Follow−up (years)</text>
<path d="M389.55,586.60 L404.75,589.00 L419.95,592.10 L435.15,596.00 L450.35,600.50 L465.55,606.00 L480.75,612.20 L495.95,619.30 L511.15,627.10" fill="none" stroke="#6FA0CC" stroke-width="1.05" stroke-dasharray="3.9,3.9"/>
<circle cx="389.55" cy="586.60" r="1.70" fill="#6FA0CC"/>
<circle cx="404.75" cy="589.00" r="1.70" fill="#6FA0CC"/>
<circle cx="419.95" cy="592.10" r="1.70" fill="#6FA0CC"/>
<circle cx="435.15" cy="596.00" r="1.70" fill="#6FA0CC"/>
<circle cx="450.35" cy="600.50" r="1.70" fill="#6FA0CC"/>
<circle cx="465.55" cy="606.00" r="1.70" fill="#6FA0CC"/>
<circle cx="480.75" cy="612.20" r="1.70" fill="#6FA0CC"/>
<circle cx="495.95" cy="619.30" r="1.70" fill="#6FA0CC"/>
<circle cx="511.15" cy="627.10" r="1.70" fill="#6FA0CC"/>
<path d="M389.55,572.00 L404.75,574.70 L419.95,578.60 L435.15,583.30 L450.35,588.60 L465.55,594.60 L480.75,601.30 L495.95,608.50 L511.15,616.30" fill="none" stroke="#A8CEE0" stroke-width="1.12"/>
<circle cx="389.55" cy="572.00" r="1.70" fill="#A8CEE0"/>
<circle cx="404.75" cy="574.70" r="1.70" fill="#A8CEE0"/>
<circle cx="419.95" cy="578.60" r="1.70" fill="#A8CEE0"/>
<circle cx="435.15" cy="583.30" r="1.70" fill="#A8CEE0"/>
<circle cx="450.35" cy="588.60" r="1.70" fill="#A8CEE0"/>
<circle cx="465.55" cy="594.60" r="1.70" fill="#A8CEE0"/>
<circle cx="480.75" cy="601.30" r="1.70" fill="#A8CEE0"/>
<circle cx="495.95" cy="608.50" r="1.70" fill="#A8CEE0"/>
<circle cx="511.15" cy="616.30" r="1.70" fill="#A8CEE0"/>
<path d="M389.55,600.90 L404.75,602.70 L419.95,605.40 L435.15,608.50 L450.35,612.40 L465.55,617.30 L480.75,622.80 L495.95,629.20 L511.15,636.70" fill="none" stroke="#1E5E9E" stroke-width="1.22"/>
<polygon points="389.55,599.12 391.50,602.16 387.60,602.16" fill="#1E5E9E"/>
<polygon points="404.75,600.93 406.70,603.96 402.80,603.96" fill="#1E5E9E"/>
<polygon points="419.95,603.62 421.90,606.66 418.00,606.66" fill="#1E5E9E"/>
<polygon points="435.15,606.73 437.10,609.76 433.20,609.76" fill="#1E5E9E"/>
<polygon points="450.35,610.62 452.30,613.66 448.40,613.66" fill="#1E5E9E"/>
<polygon points="465.55,615.52 467.50,618.56 463.60,618.56" fill="#1E5E9E"/>
<polygon points="480.75,621.02 482.70,624.06 478.80,624.06" fill="#1E5E9E"/>
<polygon points="495.95,627.43 497.90,630.46 494.00,630.46" fill="#1E5E9E"/>
<polygon points="511.15,634.93 513.10,637.96 509.20,637.96" fill="#1E5E9E"/>
<line x1="391.70" y1="530.10" x2="398.50" y2="530.10" stroke="#6FA0CC" stroke-width="1.1" stroke-dasharray="4,4"/>
<circle cx="395.10" cy="530.10" r="1.70" fill="#6FA0CC"/>
<text x="401.70" y="533.00" font-size="8.35" fill="#000" stroke="#000" stroke-width="0.2">Single CMD</text>
<line x1="391.70" y1="538.50" x2="398.50" y2="538.50" stroke="#A8CEE0" stroke-width="1.1"/>
<circle cx="395.10" cy="538.50" r="1.70" fill="#A8CEE0"/>
<text x="401.70" y="541.40" font-size="8.35" fill="#000" stroke="#000" stroke-width="0.2">Single CMD + socially active</text>
<line x1="391.70" y1="546.40" x2="398.50" y2="546.40" stroke="#1E5E9E" stroke-width="1.1"/>
<polygon points="395.10,544.62 397.05,547.66 393.15,547.66" fill="#1E5E9E"/>
<text x="401.70" y="549.30" font-size="8.35" fill="#000" stroke="#000" stroke-width="0.2">Single CMD + socially inactive</text>
<text transform="translate(528.92 625.82) rotate(-90)" font-size="9.9" textLength="158.87" lengthAdjust="spacingAndGlyphs" text-anchor="middle" fill="#000" stroke="#000" stroke-width="0.2">Predicted standardized cognitive score</text>
<line x1="551.12" y1="522.95" x2="551.12" y2="729.10" stroke="#c6c6c6" stroke-width="1.25"/>
<line x1="550.47" y1="729.15" x2="684.63" y2="729.15" stroke="#acacac" stroke-width="1.4"/>
<line x1="549.27" y1="532.30" x2="550.87" y2="532.30" stroke="#333333" stroke-width="0.6"/>
<text transform="translate(548.57 535.60) scale(1 1.13)" font-size="8.3" text-anchor="end" fill="#222222" stroke="#222222" stroke-width="0.2">0.5</text>
<line x1="549.27" y1="594.65" x2="550.87" y2="594.65" stroke="#333333" stroke-width="0.6"/>
<text transform="translate(548.57 597.95) scale(1 1.13)" font-size="8.3" text-anchor="end" fill="#222222" stroke="#222222" stroke-width="0.2">0.0</text>
<line x1="549.27" y1="657.00" x2="550.87" y2="657.00" stroke="#333333" stroke-width="0.6"/>
<text transform="translate(548.57 660.30) scale(1 1.13)" font-size="8.3" text-anchor="end" fill="#222222" stroke="#222222" stroke-width="0.2">−0.5</text>
<line x1="549.27" y1="719.35" x2="550.87" y2="719.35" stroke="#333333" stroke-width="0.6"/>
<text transform="translate(548.57 722.65) scale(1 1.13)" font-size="8.3" text-anchor="end" fill="#222222" stroke="#222222" stroke-width="0.2">−1.0</text>
<line x1="556.95" y1="729.80" x2="556.95" y2="730.60" stroke="#333333" stroke-width="0.6"/>
<text transform="translate(556.95 737.67) scale(1 1.13)" font-size="8.3" text-anchor="middle" fill="#222222" stroke="#222222" stroke-width="0.2">0</text>
<line x1="587.35" y1="729.80" x2="587.35" y2="730.60" stroke="#333333" stroke-width="0.6"/>
<text transform="translate(587.35 737.67) scale(1 1.13)" font-size="8.3" text-anchor="middle" fill="#222222" stroke="#222222" stroke-width="0.2">2</text>
<line x1="617.75" y1="729.80" x2="617.75" y2="730.60" stroke="#333333" stroke-width="0.6"/>
<text transform="translate(617.75 737.67) scale(1 1.13)" font-size="8.3" text-anchor="middle" fill="#222222" stroke="#222222" stroke-width="0.2">4</text>
<line x1="648.15" y1="729.80" x2="648.15" y2="730.60" stroke="#333333" stroke-width="0.6"/>
<text transform="translate(648.15 737.67) scale(1 1.13)" font-size="8.3" text-anchor="middle" fill="#222222" stroke="#222222" stroke-width="0.2">6</text>
<line x1="678.55" y1="729.80" x2="678.55" y2="730.60" stroke="#333333" stroke-width="0.6"/>
<text transform="translate(678.55 737.67) scale(1 1.13)" font-size="8.3" text-anchor="middle" fill="#222222" stroke="#222222" stroke-width="0.2">8</text>
<text transform="translate(617.75 746.70) scale(1 1.06)" font-size="9.3" text-anchor="middle" fill="#000" stroke="#000" stroke-width="0.2">Follow−up (years)</text>
<path d="M556.95,597.90 L572.15,602.80 L587.35,607.80 L602.55,613.40 L617.75,619.30 L632.95,625.70 L648.15,632.10 L663.35,638.60 L678.55,645.70" fill="none" stroke="#EF7062" stroke-width="1.05" stroke-dasharray="3.9,3.9"/>
<polygon points="556.95,596.12 558.90,599.16 555.00,599.16" fill="#EF7062"/>
<polygon points="572.15,601.02 574.10,604.06 570.20,604.06" fill="#EF7062"/>
<polygon points="587.35,606.02 589.30,609.06 585.40,609.06" fill="#EF7062"/>
<polygon points="602.55,611.62 604.50,614.66 600.60,614.66" fill="#EF7062"/>
<polygon points="617.75,617.52 619.70,620.56 615.80,620.56" fill="#EF7062"/>
<polygon points="632.95,623.93 634.90,626.96 631.00,626.96" fill="#EF7062"/>
<polygon points="648.15,630.33 650.10,633.36 646.20,633.36" fill="#EF7062"/>
<polygon points="663.35,636.83 665.30,639.86 661.40,639.86" fill="#EF7062"/>
<polygon points="678.55,643.93 680.50,646.96 676.60,646.96" fill="#EF7062"/>
<path d="M556.95,581.20 L572.15,584.80 L587.35,589.50 L602.55,594.70 L617.75,600.60 L632.95,607.40 L648.15,614.90 L663.35,623.00 L678.55,631.90" fill="none" stroke="#FCA46A" stroke-width="1.12"/>
<circle cx="556.95" cy="581.20" r="1.70" fill="#FCA46A"/>
<circle cx="572.15" cy="584.80" r="1.70" fill="#FCA46A"/>
<circle cx="587.35" cy="589.50" r="1.70" fill="#FCA46A"/>
<circle cx="602.55" cy="594.70" r="1.70" fill="#FCA46A"/>
<circle cx="617.75" cy="600.60" r="1.70" fill="#FCA46A"/>
<circle cx="632.95" cy="607.40" r="1.70" fill="#FCA46A"/>
<circle cx="648.15" cy="614.90" r="1.70" fill="#FCA46A"/>
<circle cx="663.35" cy="623.00" r="1.70" fill="#FCA46A"/>
<circle cx="678.55" cy="631.90" r="1.70" fill="#FCA46A"/>
<path d="M556.95,612.40 L572.15,618.80 L587.35,624.70 L602.55,630.70 L617.75,636.30 L632.95,642.10 L648.15,647.50 L663.35,652.90 L678.55,657.90" fill="none" stroke="#A8202A" stroke-width="1.22"/>
<rect x="555.35" y="610.80" width="3.20" height="3.20" fill="#A8202A"/>
<rect x="570.55" y="617.20" width="3.20" height="3.20" fill="#A8202A"/>
<rect x="585.75" y="623.10" width="3.20" height="3.20" fill="#A8202A"/>
<rect x="600.95" y="629.10" width="3.20" height="3.20" fill="#A8202A"/>
<rect x="616.15" y="634.70" width="3.20" height="3.20" fill="#A8202A"/>
<rect x="631.35" y="640.50" width="3.20" height="3.20" fill="#A8202A"/>
<rect x="646.55" y="645.90" width="3.20" height="3.20" fill="#A8202A"/>
<rect x="661.75" y="651.30" width="3.20" height="3.20" fill="#A8202A"/>
<rect x="676.95" y="656.30" width="3.20" height="3.20" fill="#A8202A"/>
<line x1="562.50" y1="530.10" x2="569.30" y2="530.10" stroke="#EF7062" stroke-width="1.1" stroke-dasharray="4,4"/>
<polygon points="565.90,528.33 567.85,531.36 563.95,531.36" fill="#EF7062"/>
<text x="572.10" y="533.00" font-size="8.35" fill="#000" stroke="#000" stroke-width="0.2">CMM</text>
<line x1="562.50" y1="538.50" x2="569.30" y2="538.50" stroke="#FCA46A" stroke-width="1.1"/>
<circle cx="565.90" cy="538.50" r="1.70" fill="#FCA46A"/>
<text x="572.10" y="541.40" font-size="8.35" fill="#000" stroke="#000" stroke-width="0.2">CMM + socially active</text>
<line x1="562.50" y1="546.40" x2="569.30" y2="546.40" stroke="#A8202A" stroke-width="1.1"/>
<rect x="564.30" y="544.80" width="3.20" height="3.20" fill="#A8202A"/>
<text x="572.10" y="549.30" font-size="8.35" fill="#000" stroke="#000" stroke-width="0.2">CMM + socially inactive</text>
</svg>
</body></html>
